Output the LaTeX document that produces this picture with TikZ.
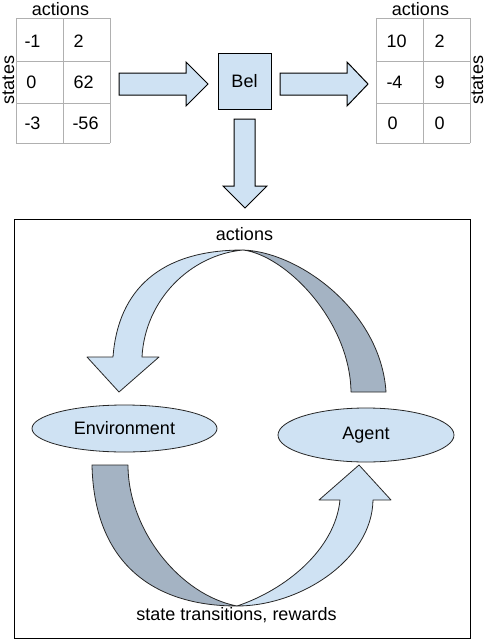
\documentclass[tikz,border=0pt]{standalone}
\usepackage{fontspec}
\setmainfont{Liberation Sans}
\usetikzlibrary{shapes.geometric}
\definecolor{lightblue}{HTML}{CFE2F3}
\definecolor{slate}{HTML}{A4B3C3}
\definecolor{gridgray}{HTML}{B0B0B0}
\begin{document}
\begin{tikzpicture}[x=1pt,y=-1pt,line width=1pt,
  font=\fontsize{18}{20}\selectfont,
  lbl/.style={inner sep=0pt,anchor=base},
  cell/.style={inner sep=0pt,anchor=base west},
  gridline/.style={draw=gridgray,line width=0.8pt},
  blockarrow/.style={draw=black,fill=lightblue,line join=miter},
  frontband/.style={draw=black!85,fill=lightblue,line width=0.8pt,line join=round},
  backband/.style={draw=black!85,fill=slate,line width=0.8pt,line join=round},
  oval/.style={ellipse,draw=black!85,fill=lightblue,inner sep=0pt,line width=0.8pt}]
\useasboundingbox (0,0) rectangle (486,640);

% ---- left table
\foreach \x in {16,63,110} \draw[gridline] (\x,18) -- (\x,143);
\foreach \y in {18,61,103,143} \draw[gridline] (16,\y) -- (110,\y);
\node[lbl] (actL) at (60.5,15) {actions};
\node[lbl,rotate=90] (stL) at (14,80) {states};
\node[cell] (l11) at (24,47) {-1};
\node[cell] (l12) at (73,47) {2};
\node[cell] (l21) at (26,88) {0};
\node[cell] (l22) at (73,88) {62};
\node[cell] (l31) at (24,129) {-3};
\node[cell] (l32) at (72,129) {-56};

% ---- right table
\foreach \x in {376,423,470} \draw[gridline] (\x,18) -- (\x,143);
\foreach \y in {18,61,103,143} \draw[gridline] (376,\y) -- (470,\y);
\node[lbl] (actR) at (420.5,15) {actions};
\node[lbl,rotate=90] (stR) at (483,80) {states};
\node[cell] (r11) at (386,47) {10};
\node[cell] (r12) at (434,47) {2};
\node[cell] (r21) at (386,88) {-4};
\node[cell] (r22) at (434,88) {9};
\node[cell] (r31) at (387,129) {0};
\node[cell] (r32) at (434,129) {0};

% ---- Bel and block arrows
\node[draw,fill=lightblue,minimum width=53pt,minimum height=56pt,inner sep=0pt] (bel) at (244.5,81) {Bel};
\path[blockarrow] (119,73) -- (186,73) -- (186,62) -- (208,84) -- (186,106) -- (186,95) -- (119,95) -- cycle;
\path[blockarrow] (280,73) -- (347,73) -- (347,62) -- (368,84) -- (347,106) -- (347,95) -- (280,95) -- cycle;
\path[blockarrow] (234,119) -- (255,119) -- (255,186) -- (267,186) -- (245,208) -- (223,186) -- (234,186) -- cycle;

% ---- frame
\draw (14,219) rectangle (470,638);

% ---- top curved arrow
\coordinate (topApex) at (243,250);
\path[backband] (topApex) .. controls (300,252) and (381,312) .. (386,392)
  -- (351,392) .. controls (350,320) and (285,255) .. (topApex) -- cycle;
\path[frontband] (topApex) .. controls (160,250) and (118,290) .. (113,357)
  -- (87,357) -- (119,392) -- (159,357) -- (142,357)
  .. controls (145,300) and (190,255) .. (topApex) -- cycle;
\node[lbl] (actLoop) at (244.5,240) {actions};

% ---- ellipses
\node[oval,minimum width=185pt,minimum height=47pt] (env) at (124.5,428.5) {Environment};
\node[oval,minimum width=176pt,minimum height=54pt] (agent) at (366,435) {Agent};

% ---- bottom curved arrow
\coordinate (botApex) at (237,606);
\path[backband] (92,465) -- (128,465)
  .. controls (128,530) and (180,595) .. (botApex)
  .. controls (150,606) and (94,560) .. (92,465) -- cycle;
\path[frontband] (botApex) .. controls (300,606) and (372,560) .. (373,500)
  -- (391,500) -- (359,465) -- (319,500) -- (340,500)
  .. controls (335,550) and (285,590) .. (botApex) -- cycle;
\node[lbl] (stRew) at (236.5,620) {state transitions, rewards};
\end{tikzpicture}
\end{document}
